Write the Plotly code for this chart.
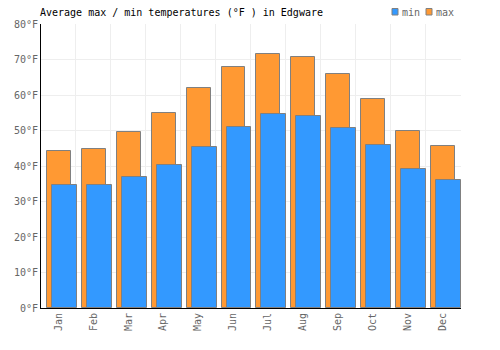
import plotly.graph_objects as go

months = ["Jan", "Feb", "Mar", "Apr", "May", "Jun", "Jul", "Aug", "Sep", "Oct", "Nov", "Dec"]
max_temps = [44.2, 44.8, 49.6, 54.9, 62.0, 67.9, 71.5, 70.7, 65.8, 58.8, 49.9, 45.5]
min_temps = [34.6, 34.6, 36.9, 40.3, 45.4, 51.0, 54.6, 54.0, 50.6, 45.8, 39.2, 36.1]
series_names = ["min", "max"]
series_colors = ["#3399FF", "#FF9933"]

FONT = "DejaVu Sans Mono"
W, H = 500, 350

fig = go.Figure()
fig.add_trace(go.Bar(
    x=months, y=max_temps, name="max",
    marker=dict(color=series_colors[1], line=dict(color="#808080", width=1)),
    offset=-0.33, width=0.686,
))
fig.add_trace(go.Bar(
    x=months, y=min_temps, name="min",
    marker=dict(color=series_colors[0], line=dict(color="#808080", width=1)),
    offset=-0.186, width=0.714,
))

# custom compact legend (squares + labels) at top right
shapes = []
annotations = []
legend_x = [392, 426]
for name, color, lx in zip(series_names, series_colors, legend_x):
    shapes.append(dict(type="rect", xref="paper", yref="paper",
                       x0=(lx - 41) / 420, x1=(lx + 6 - 41) / 420,
                       y0=(308 - 15) / 284, y1=(308 - 8.5) / 284,
                       fillcolor=color, line=dict(color="#808080", width=1)))
    annotations.append(dict(text=name, xref="paper", yref="paper",
                            x=(lx + 8 - 41) / 420, y=(308 - 12) / 284,
                            xanchor="left", yanchor="middle", showarrow=False,
                            font=dict(family=FONT, size=10, color="#666666")))

fig.update_layout(
    width=W, height=H,
    margin=dict(l=41, r=39, t=24, b=42, autoexpand=False),
    barmode="overlay",
    showlegend=False,
    paper_bgcolor="white", plot_bgcolor="white",
    font=dict(family=FONT, size=10, color="#666666"),
    title=dict(text="Average max / min temperatures (°F ) in Edgware",
               x=40/W, xanchor="left", y=1-12/H, yanchor="middle",
               font=dict(family=FONT, size=10, color="#000000")),
    shapes=shapes,
    annotations=annotations,
    xaxis=dict(type="category", tickangle=-90, showgrid=True, gridcolor="#eeeeee",
               tickson="boundaries",
               showline=True, linecolor="#000000", linewidth=1, ticks="",
               tickfont=dict(family=FONT, size=10, color="#666666")),
    yaxis=dict(range=[0, 80], dtick=10, ticksuffix="°F", showgrid=True, gridcolor="#eeeeee",
               showline=True, linecolor="#000000", linewidth=1, zeroline=False,
               tickfont=dict(family=FONT, size=10, color="#666666")),
    bargap=0,
)

fig.write_html("out.html")
